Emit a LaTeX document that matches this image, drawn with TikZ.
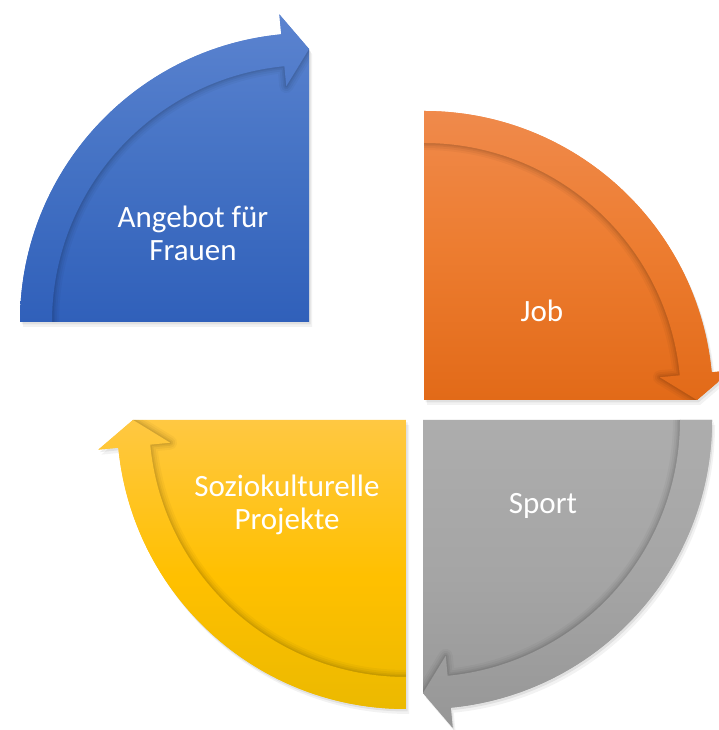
\documentclass[tikz,border=0pt]{standalone}
\usepackage{fontspec}
\setmainfont{Carlito}
\definecolor{blueT}{RGB}{92,132,208}
\definecolor{blueM}{RGB}{68,114,196}
\definecolor{blueB}{RGB}{48,96,186}
\definecolor{oranT}{RGB}{240,140,80}
\definecolor{oranM}{RGB}{237,125,49}
\definecolor{oranB}{RGB}{226,106,24}
\definecolor{grayT}{RGB}{173,173,173}
\definecolor{grayM}{RGB}{165,165,165}
\definecolor{grayB}{RGB}{150,150,150}
\definecolor{yelT}{RGB}{255,200,66}
\definecolor{yelM}{RGB}{255,192,0}
\definecolor{yelB}{RGB}{232,184,0}
\newcommand\quarterseg[6]{%
\begin{scope}[shift={(#1,#2)}]
\pgfmathsetmacro\qe{#3-84.5}
\pgfmathsetmacro\qt{#3-90}
\pgfmathsetmacro\qd{#3-45}
\fill[black,opacity=0.05,shift={(3,-5)}] (0,0) -- (#3:289pt) arc[start angle=#3,end angle=\qe,radius=289pt] -- (\qe:309pt) -- (\qt:273pt) -- cycle;
\fill[black,opacity=0.07,shift={(1.5,-2.5)}] (0,0) -- (#3:289pt) arc[start angle=#3,end angle=\qe,radius=289pt] -- (\qe:309pt) -- (\qt:273pt) -- cycle;
\begin{scope}
\clip (0,0) -- (#3:289pt) arc[start angle=#3,end angle=\qe,radius=289pt] -- (\qe:309pt) -- (\qt:273pt) -- cycle;
\shade[top color=#4,bottom color=#6,middle color=#5] (0,0) rectangle (\qd:442pt);
\foreach \w/\o in {14/0.03,10/0.04,6/0.05,3/0.06}{
\draw[black,opacity=\o,line width=\w pt,line join=round] (#3:257pt) arc[start angle=#3,end angle=\qe,radius=257pt] -- (\qe:237pt) -- (\qt:273pt);}
\begin{scope}
\clip (#3:289pt) arc[start angle=#3,end angle=\qe,radius=289pt] -- (\qe:309pt) -- (\qt:273pt) -- (\qe:237pt) -- (\qe:257pt) arc[start angle=\qe,end angle=#3,radius=257pt] -- cycle;
\shade[top color=#4,bottom color=#6,middle color=#5] (0,0) rectangle (\qd:442pt);
\end{scope}
\end{scope}
\end{scope}}
\begin{document}
\begin{tikzpicture}[x=1pt,y=1pt,
  lbl/.style={text=white,font=\fontsize{31}{33}\selectfont,align=center,inner sep=0pt}]
\useasboundingbox[fill=white] (0,0) rectangle (718,730);
\quarterseg{309}{408}{180}{blueT}{blueM}{blueB}
\quarterseg{424}{330}{90}{oranT}{oranM}{oranB}
\quarterseg{423}{310}{0}{grayT}{grayM}{grayB}
\quarterseg{406}{310}{270}{yelT}{yelM}{yelB}
\node[lbl] (tblue) at (193,497) {Angebot für\\Frauen};
\node[lbl,anchor=base] (tjob) at (542,408) {Job};
\node[lbl,anchor=base] (tsport) at (543,216) {Sport};
\node[lbl] (tyel) at (287,225) {Soziokulturelle\\Projekte};
\end{tikzpicture}
\end{document}
